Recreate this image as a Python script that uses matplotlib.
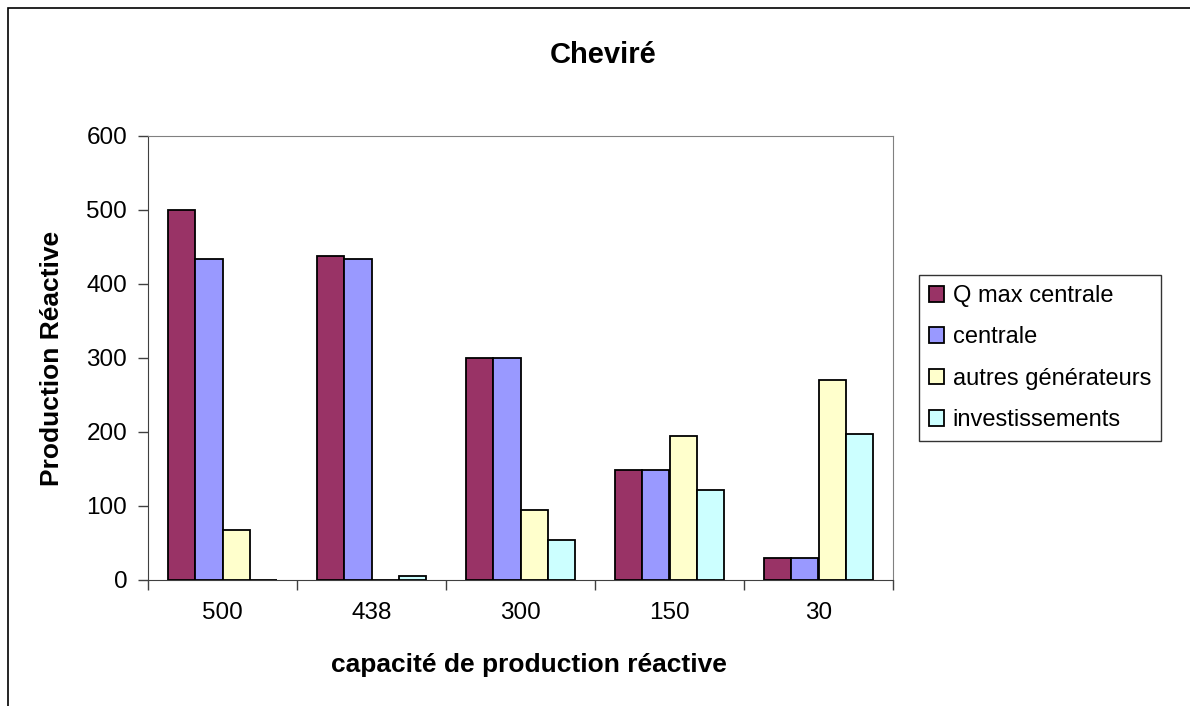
import numpy as np
import matplotlib.pyplot as plt
from matplotlib.patches import Rectangle

plt.rcParams['font.family'] = ['Liberation Sans', 'DejaVu Sans']

categories = ['500', '438', '300', '150', '30']
series_names = ['Q max centrale', 'centrale', 'autres générateurs', 'investissements']
q_max = [500, 438, 300, 148, 30]
centrale = [434, 434, 300, 148, 30]
autres = [68, 0, 94, 194, 270]
invest = [0, 5, 54, 122, 197]
colors = ['#993366', '#9999FF', '#FFFFCC', '#CCFFFF']

fig = plt.figure(figsize=(11.9, 7.06), dpi=100)
ax = fig.add_axes([148 / 1190, 1 - 580 / 706, 745 / 1190, 444 / 706])

# cadre extérieur (coupé à droite et en bas comme l'original)
fig.patches.append(Rectangle((8 / 1190, -0.1), 1.2, 1 - 8 / 706 + 0.1,
                             transform=fig.transFigure, fill=False,
                             edgecolor='black', linewidth=1.2))

x = np.arange(len(categories))
w = 0.182
for k, (vals, name) in enumerate(zip([q_max, centrale, autres, invest], series_names)):
    ax.bar(x + (k - 1.5) * w, vals, w, color=colors[k], edgecolor='black',
           linewidth=1.3, label=name, zorder=3)

ax.set_xlim(-0.5, len(categories) - 0.5)
ax.set_ylim(0, 600)
ax.set_yticks(range(0, 601, 100))
ax.set_xticks(x)
ax.set_xticklabels(categories)
ax.set_xticks(np.arange(-0.5, len(categories), 1), minor=True)
ax.tick_params(axis='x', which='major', length=0, pad=16, labelsize=17.5)
ax.tick_params(axis='x', which='minor', length=7, direction='out', width=1, color='#404040')
ax.tick_params(axis='y', length=7, direction='out', width=1, color='#404040', labelsize=17.5, pad=8)

for s in ['top', 'right']:
    ax.spines[s].set_color('#808080')
for s in ['left', 'bottom']:
    ax.spines[s].set_color('#404040')

fig.text(603 / 1190, 1 - 55 / 706, 'Cheviré', fontsize=21, fontweight='bold',
         ha='center', va='center')
ax.set_xlabel('capacité de production réactive', fontsize=19, fontweight='bold')
ax.set_ylabel('Production Réactive', fontsize=19, fontweight='bold')
ax.xaxis.set_label_coords((529 - 148) / 745, (580 - 665) / 444)
ax.yaxis.set_label_coords((52 - 148) / 745, 0.5)
ax.xaxis.label.set_va('center')
ax.yaxis.label.set_va('center')

leg = fig.legend(loc='center left', bbox_to_anchor=(919 / 1190, 1 - 358 / 706),
                 fontsize=17, frameon=True, fancybox=False, edgecolor='black',
                 handlelength=0.65, handleheight=0.65, handletextpad=0.35,
                 labelspacing=0.82, borderpad=0.42, borderaxespad=0)
leg.get_frame().set_linewidth(1)

fig.savefig('out.png', dpi=100)
